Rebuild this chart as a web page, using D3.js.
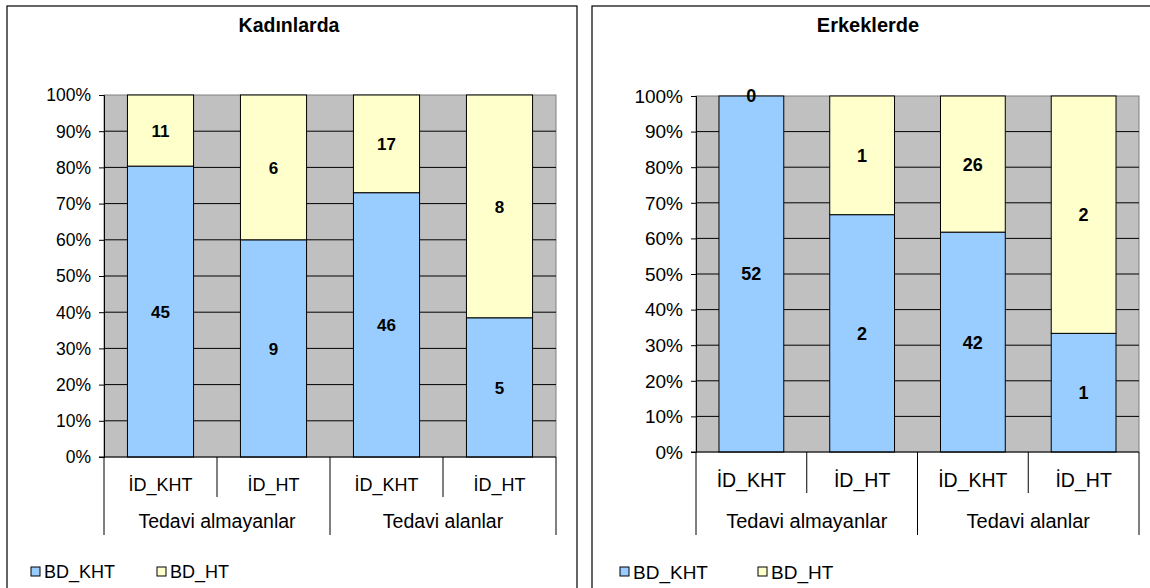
<!DOCTYPE html>
<html lang="en">
<head>
  <meta charset="UTF-8">
  <title>Kadınlarda / Erkeklerde</title>
  <style>
    body { margin: 0; background: #fff; }
    text { font-family: "Liberation Sans", Arial, sans-serif; fill: #000; }
  </style>
</head>
<body>
  <script src="https://d3js.org/d3.v7.min.js"></script>
  <script>
    // data
    const bars = ["İD_KHT", "İD_HT", "İD_KHT", "İD_HT"];
    const groups = ["Tedavi almayanlar", "Tedavi alanlar"];
    const seriesNames = ["BD_KHT", "BD_HT"];
    const seriesColors = ["#99CCFF", "#FFFFCC"];
    const yTicks = [0, 0.1, 0.2, 0.3, 0.4, 0.5, 0.6, 0.7, 0.8, 0.9, 1];

    const kadinKHT = [45, 9, 46, 5];
    const kadinHT = [11, 6, 17, 8];
    const erkekKHT = [52, 2, 42, 1];
    const erkekHT = [0, 1, 26, 2];

    const W = 1150, H = 588;
    const svg = d3.select("body").append("svg")
      .attr("width", W).attr("height", H);

    const pct = d3.format(".0%");

    function txt(g, x, y, str, f) {
      return g.append("text")
        .attr("x", x).attr("y", y)
        .attr("dy", "0.36em")
        .attr("text-anchor", f.anchor || "middle")
        .style("font-size", f.size + "px")
        .style("font-weight", f.bold ? "bold" : "normal")
        .text(str);
    }

    function panel(opt) {
      const g = svg.append("g");
      const f = opt.font;
      // outer frame (bottom is cut off by the picture)
      g.append("rect")
        .attr("x", opt.frame[0]).attr("y", 6)
        .attr("width", opt.frame[1] - opt.frame[0]).attr("height", H)
        .attr("fill", "#fff").attr("stroke", "#000").attr("stroke-width", 1.2);

      txt(g, (opt.frame[0] + opt.frame[1]) / 2 + opt.titleDx, 25, opt.title, f.title);

      const x = d3.scaleBand().domain(d3.range(bars.length))
        .range([opt.left, opt.right]).paddingInner(0.415).paddingOuter(0.2075);
      const y = d3.scaleLinear().domain([0, 1]).range([opt.bottom, opt.top]);

      g.append("rect")
        .attr("x", opt.left).attr("y", opt.top)
        .attr("width", opt.right - opt.left).attr("height", opt.bottom - opt.top)
        .attr("fill", "#C0C0C0").attr("stroke", "#808080");

      g.selectAll(".grid").data(yTicks.slice(1, -1)).join("line")
        .attr("x1", opt.left).attr("x2", opt.right)
        .attr("y1", d => y(d)).attr("y2", d => y(d))
        .attr("stroke", "#000").attr("stroke-width", 1);

      const yAxis = g.append("g")
        .attr("transform", `translate(${opt.left},0)`)
        .call(d3.axisLeft(y).tickValues(yTicks).tickFormat("").tickSize(5));
      yAxis.select(".domain").attr("stroke", "#000");
      yTicks.forEach(t => txt(g, opt.left - 13, y(t), pct(t), f.tick));

      const totals = opt.a.map((v, i) => v + opt.b[i]);
      const stack = [opt.a, opt.b];

      stack.forEach((vals, s) => {
        vals.forEach((v, i) => {
          const y0 = s === 0 ? 0 : opt.a[i] / totals[i];
          const y1 = y0 + v / totals[i];
          if (v > 0) {
            g.append("rect")
              .attr("x", x(i)).attr("width", x.bandwidth())
              .attr("y", y(y1)).attr("height", y(y0) - y(y1))
              .attr("fill", seriesColors[s]).attr("stroke", "#000").attr("stroke-width", 1);
          }
        });
      });
      stack.forEach((vals, s) => {
        vals.forEach((v, i) => {
          const y0 = s === 0 ? 0 : opt.a[i] / totals[i];
          const y1 = y0 + v / totals[i];
          txt(g, x(i) + x.bandwidth() / 2, y((y0 + y1) / 2), v, f.label);
        });
      });

      // baseline and multi-level category axis
      g.append("line")
        .attr("x1", opt.left - 5).attr("x2", opt.right)
        .attr("y1", opt.bottom).attr("y2", opt.bottom)
        .attr("stroke", "#000");

      const step = (opt.right - opt.left) / bars.length;
      d3.range(bars.length + 1).forEach(i => {
        const outer = i % 2 === 0;
        g.append("line")
          .attr("x1", opt.left + i * step).attr("x2", opt.left + i * step)
          .attr("y1", opt.bottom)
          .attr("y2", opt.bottom + (outer ? opt.outerLen : opt.innerLen))
          .attr("stroke", "#000");
      });

      bars.forEach((d, i) => txt(g, opt.left + (i + 0.5) * step, opt.bottom + opt.catY, d, f.cat));
      groups.forEach((d, i) => txt(g, opt.left + (i * 2 + 1) * step, opt.bottom + opt.grpY, d, f.grp));

      // legend
      seriesNames.forEach((name, s) => {
        const lx = opt.legendX[s];
        g.append("rect")
          .attr("x", lx).attr("y", 567).attr("width", 9).attr("height", 9)
          .attr("fill", seriesColors[s]).attr("stroke", "#000").attr("stroke-width", 1);
        txt(g, lx + 13, 572, name, Object.assign({ anchor: "start" }, f.legend));
      });
    }

    panel({
      title: "Kadınlarda", frame: [7, 577], titleDx: -3,
      left: 104, right: 556, top: 95, bottom: 457,
      innerLen: 40, outerLen: 78, catY: 28, grpY: 64,
      a: kadinKHT, b: kadinHT,
      font: {
        title: { size: 19.5, bold: true },
        tick: { size: 17.5, anchor: "end" },
        label: { size: 17, bold: true },
        cat: { size: 18 },
        grp: { size: 19.5 },
        legend: { size: 18 }
      },
      legendX: [31, 157]
    });

    panel({
      title: "Erkeklerde", frame: [592, 1160], titleDx: -8,
      left: 696, right: 1139, top: 96, bottom: 452,
      innerLen: 41, outerLen: 83, catY: 28, grpY: 69,
      a: erkekKHT, b: erkekHT,
      font: {
        title: { size: 20, bold: true },
        tick: { size: 19, anchor: "end" },
        label: { size: 18, bold: true },
        cat: { size: 19.5 },
        grp: { size: 20 },
        legend: { size: 19 }
      },
      legendX: [620, 758]
    });
  </script>
</body>
</html>
